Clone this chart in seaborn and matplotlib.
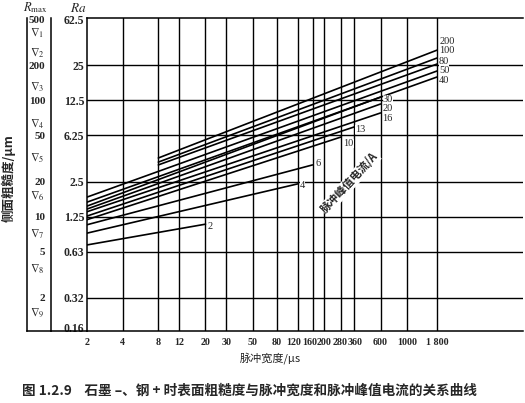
import numpy as np
import pandas as pd
import seaborn as sns
import matplotlib
matplotlib.use('Agg')
import matplotlib.pyplot as plt
import matplotlib.transforms as mtrans
from matplotlib.ticker import NullLocator

# ---------------------------------------------------------
# DADES (llegides del gràfic)
# ---------------------------------------------------------
currents = [2, 4, 6, 10, 13, 16, 20, 30, 40, 50, 80, 100, 200]          # A
t_start = [2, 2, 2, 2, 2, 2, 2, 2, 2, 2, 8, 8, 8]                        # µs
t_end = [20, 120, 160, 280, 360, 600, 600, 600, 1800, 1800, 1800, 1800, 1800]
r_start = [5.7, 7.2, 8.5, 9.4, 10.1, 11.0, 11.6, 12.3, 13.3, 14.7, 27.8, 29.4, 31.9]   # Rmax µm
r_end = [8.6, 19.1, 27.8, 48.4, 59.0, 77.8, 92.9, 106.6, 158.6, 178.6, 205, 231, 270]

t_ticks = [2, 4, 8, 12, 20, 30, 50, 80, 120, 160, 200, 280, 360, 600, 1000, 1800]
t_labels = ['2', '4', '8', '12', '20', '30', '50', '80', '120', '160', '200',
            '280', '360', '600', '1000', '1 800']

rmax_ticks = [500, 200, 100, 50, 20, 10, 5, 2]
rmax_labels = ['500', '200', '100', '50', '20', '10', '5', '2']
ra_pos = [500, 200, 100, 50, 20, 10, 5, 2, 1.12]
ra_labels = ['62.5', '25', '12.5', '6.25', '2.5', '1.25', '0.63', '0.32', '0.16']
grid_r = [200, 100, 50, 20, 10, 5, 2]

grade_bounds = [500, 320, 160, 80, 40, 20, 10, 5, 2]
grade_pos = [379, 255, 130, 62.5, 32, 15, 7.1, 3.5, 1.5]
grade_labels = [r'$\nabla_{%d}$' % i for i in range(1, 10)]

# desplaçament de les etiquetes de corba (píxels respecte al final de la línia)
lab_off = {2: (2, -2), 4: (2, -2), 6: (3, 1), 10: (2, -7), 13: (1, -3),
           16: (2, -6), 20: (2, -5), 30: (2, -2), 40: (2, -4), 50: (2, 0),
           80: (2, 3), 100: (2, 7), 200: (2, 9)}
# desplaçament horitzontal d'algunes etiquetes de l'eix x (massa juntes)
xlab_shift = {'120': -3.7, '160': -3, '200': 0.5, '280': -1.4, '360': 0.6}

XLIM = (2, 9560)
YLIM = (1.037, 510)

# ---------------------------------------------------------
# ESTIL
# ---------------------------------------------------------
sns.set_style("white")
plt.rcParams['font.family'] = ['Liberation Serif', 'DejaVu Sans']
plt.rcParams['mathtext.fontset'] = 'stix'
CJK = ['Noto Sans CJK SC', 'DejaVu Sans']

W, H = 525, 403
fig = plt.figure(figsize=(W / 100, H / 100), dpi=100)


def caixa(x0, x1, y0, y1):
    return [x0 / W, 1 - y1 / H, (x1 - x0) / W, (y1 - y0) / H]


ax = fig.add_axes(caixa(87, 523, 18, 331))

rows = []
for I, t0, t1, r0, r1 in zip(currents, t_start, t_end, r_start, r_end):
    rows.append({'I': str(I), 't': t0, 'R': r0})
    rows.append({'I': str(I), 't': t1, 'R': r1})
df = pd.DataFrame(rows)

sns.lineplot(data=df, x='t', y='R', hue='I', hue_order=[str(c) for c in currents],
             palette=['black'] * len(currents), estimator=None, sort=False,
             legend=False, linewidth=1.2, ax=ax, zorder=3)

ax.set_xscale('log')
ax.set_yscale('log')
ax.set_xlim(*XLIM)
ax.set_ylim(*YLIM)
ax.set_xticks(t_ticks)
ax.set_xticklabels(t_labels)
ax.set_yticks(ra_pos)
ax.set_yticklabels(ra_labels)
ax.xaxis.set_minor_locator(NullLocator())
ax.yaxis.set_minor_locator(NullLocator())
ax.tick_params(axis='x', length=0, pad=5, labelsize=7.2)
ax.tick_params(axis='y', length=0, pad=2, labelsize=8.5)
for lab in ax.get_xticklabels() + ax.get_yticklabels():
    lab.set_fontweight('bold')
for lab in ax.get_xticklabels():
    dx = xlab_shift.get(lab.get_text(), 0)
    if dx:
        lab.set_transform(lab.get_transform() +
                          mtrans.ScaledTranslation(dx / 100, 0, fig.dpi_scale_trans))
ax.set_xlabel('')
ax.set_ylabel('')
for s in ['left', 'top', 'bottom']:
    ax.spines[s].set_color('black')
    ax.spines[s].set_linewidth(1.1)
ax.spines['right'].set_visible(False)

for t in t_ticks[1:]:
    ax.axvline(t, color='black', lw=1.0, zorder=2)
for r in grid_r:
    ax.axhline(r, color='black', lw=1.0, zorder=2)

# etiquetes de corrent
for I, t1, r1 in zip(currents, t_end, r_end):
    dx, dy = lab_off[I]
    ax.annotate(str(I), xy=(t1, r1), xytext=(dx, dy), textcoords='offset pixels',
                ha='left', va='center', fontsize=7.5, zorder=4,
                bbox=dict(facecolor='white', edgecolor='none', pad=0.0))

ax.text(330, 19.5, '脉冲峰值电流/A', rotation=47, rotation_mode='anchor',
        ha='center', va='center', fontsize=8, fontweight='bold', family=CJK,
        zorder=4, bbox=dict(facecolor='white', edgecolor='none', pad=0.3))

# eix Rmax
axr = fig.add_axes(caixa(51, 87, 18, 331))
axr.patch.set_alpha(0)
axr.set_yscale('log')
axr.set_ylim(*YLIM)
axr.set_xticks([])
axr.set_yticks(rmax_ticks)
axr.set_yticklabels(rmax_labels)
axr.yaxis.set_minor_locator(NullLocator())
axr.tick_params(axis='y', direction='out', length=3, width=1, pad=1, labelsize=8, color='black')
for lab in axr.get_yticklabels():
    lab.set_fontweight('bold')
for s in ['top', 'right']:
    axr.spines[s].set_visible(False)
for s in ['left', 'bottom']:
    axr.spines[s].set_color('black')
    axr.spines[s].set_linewidth(1.1)

# columna de graus ∇
axg = fig.add_axes(caixa(27, 51, 18, 331))
axg.patch.set_alpha(0)
axg.set_yscale('log')
axg.set_ylim(*YLIM)
axg.set_xlim(0, 1)
axg.set_xticks([])
axg.set_yticks(grade_bounds)
axg.set_yticklabels([])
axg.yaxis.set_minor_locator(NullLocator())
axg.tick_params(axis='y', direction='in', length=4, width=1, color='black')
for s in ['top', 'right']:
    axg.spines[s].set_visible(False)
for s in ['left', 'bottom']:
    axg.spines[s].set_color('black')
    axg.spines[s].set_linewidth(1.1)
for g, lab in zip(grade_pos, grade_labels):
    axg.text(0.12, g, lab, ha='left', va='center', fontsize=8.5)

# textos
fig.text(35 / W, 1 - 8 / H, r'$R_{\max}$', ha='center', va='center', fontsize=9)
fig.text(78 / W, 1 - 8 / H, r'$Ra$', ha='center', va='center', fontsize=9.5)
fig.text(9 / W, 1 - 178 / H, '侧面粗糙度/µm', rotation=90, ha='center', va='center',
         fontsize=9, fontweight='bold', family=CJK)
fig.text(270 / W, 1 - 358 / H, '脉冲宽度/µs', ha='center', va='center',
         fontsize=8, family=CJK)
fig.text(22 / W, 1 - 391 / H, '图 1.2.9    石墨 –、钢 + 时表面粗糙度与脉冲宽度和脉冲峰值电流的关系曲线',
         ha='left', va='center', fontsize=9.8, fontweight='bold', family=CJK)

fig.savefig('out.png', dpi=100)
